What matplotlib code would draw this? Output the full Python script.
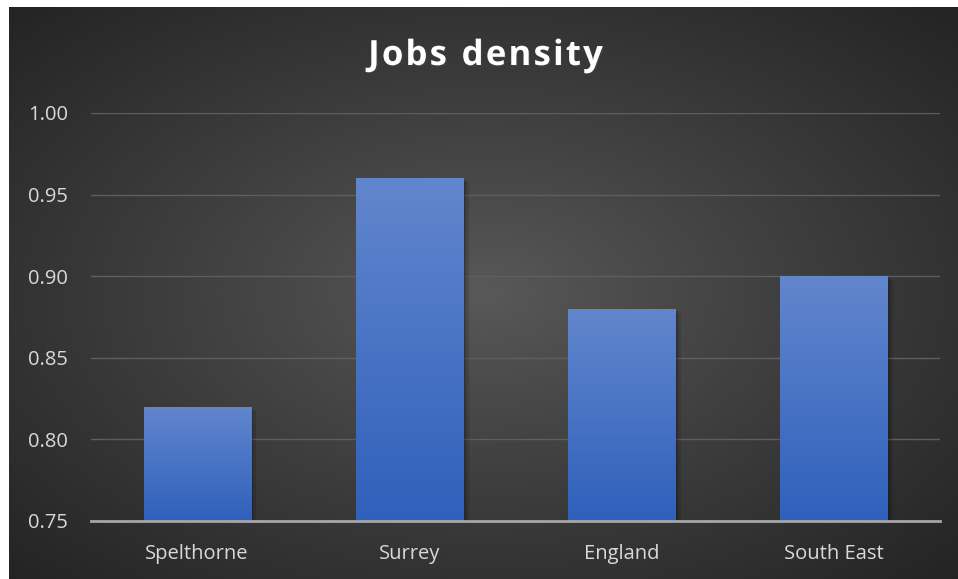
import numpy as np
import matplotlib
matplotlib.use('Agg')
from matplotlib import pyplot as plt
import matplotlib.patheffects as pe

categories = ['Spelthorne', 'Surrey', 'England', 'South East']
values = [0.82, 0.96, 0.88, 0.90]
y_ticks = [0.75, 0.80, 0.85, 0.90, 0.95, 1.00]
title = 'Jobs density'

W, H = 958, 579
fig = plt.figure(figsize=(W / 100, H / 100), dpi=100, facecolor='white')

# dark radial background (chart area is offset a bit from top/left)
bg = fig.add_axes([9 / W, 0, (W - 9) / W, (H - 7) / H])
bg.set_axis_off()
yy, xx = np.mgrid[-1:1:300j, -1:1:500j]
r = np.sqrt(xx ** 2 + yy ** 2) / np.sqrt(2)
shade = 0.35 - 0.21 * np.clip(r, 0, 1) ** 0.9
bg.imshow(np.dstack([shade, shade, shade]), aspect='auto', extent=[0, 1, 0, 1])
bg.set_xlim(0, 1)
bg.set_ylim(0, 1)

ax = fig.add_axes([91 / W, (H - 521) / H, (940 - 91) / W, (521 - 113) / H])
ax.patch.set_alpha(0)
x = np.arange(len(categories))
shadow = [pe.SimplePatchShadow(offset=(4, -3), shadow_rgbFace='black', alpha=0.12),
          pe.SimplePatchShadow(offset=(2, -1.5), shadow_rgbFace='black', alpha=0.2),
          pe.Normal()]
bars = ax.bar(x, values, width=0.505, bottom=0, color='#4a74c9', zorder=2, path_effects=shadow)

# vertical gradient fill on each bar
grad = np.linspace(0, 1, 256).reshape(-1, 1)
top_c = np.array([0x62, 0x86, 0xcd]) / 255
bot_c = np.array([0x2f, 0x60, 0xbb]) / 255
img = (top_c * (1 - grad)[..., None] + bot_c * grad[..., None]).reshape(256, 1, 3)
for b in bars:
    x0 = b.get_x()
    im = ax.imshow(img, aspect='auto', extent=[x0, x0 + b.get_width(), 0.75, b.get_height()],
                   origin='upper', zorder=3)
    im.set_clip_path(b)

ax.set_xlim(-0.5, len(categories) - 0.5)
ax.set_ylim(0.75, 1.0)
ax.set_yticks(y_ticks)
ax.set_yticklabels(['%.2f' % v for v in y_ticks])
ax.set_xticks(x)
ax.set_xticklabels(categories)
for lab in ax.get_xticklabels() + ax.get_yticklabels():
    lab.set_fontfamily('Open Sans')
    lab.set_fontsize(14.5)
    lab.set_color('#d9d9d9')
ax.tick_params(length=0)
ax.tick_params(axis='y', pad=16.5)
ax.tick_params(axis='x', pad=16.5)
ax.grid(axis='y', color='#5e5e5e', linewidth=1, zorder=1)
for s in ['top', 'right', 'left']:
    ax.spines[s].set_visible(False)
ax.spines['bottom'].set_color('#a6a6a6')
ax.spines['bottom'].set_linewidth(2)
ax.spines['bottom'].set_zorder(4)

# title with letter spacing: place each character
renderer = fig.canvas.get_renderer()
tsize = 25
spacing = 2.2
chars = []
widths = []
for ch in title:
    t = fig.text(0, 0, ch if ch != ' ' else 'n', color='white', fontsize=tsize,
                 fontweight='bold', fontfamily='Open Sans', va='baseline', ha='left',
                 path_effects=[pe.withSimplePatchShadow(offset=(1, -1), alpha=0.35)])
    w = t.get_window_extent(renderer).width
    if ch == ' ':
        t.remove()
        t = None
        w = w * 0.45
    chars.append(t)
    widths.append(w)
total = sum(widths) + spacing * (len(title) - 1)
xpos = 485.5 - total / 2
for t, w in zip(chars, widths):
    if t is not None:
        t.set_position((xpos / W, 1 - 65 / H))
    xpos += w + spacing

plt.savefig('out.png', dpi=100, facecolor=fig.get_facecolor())
